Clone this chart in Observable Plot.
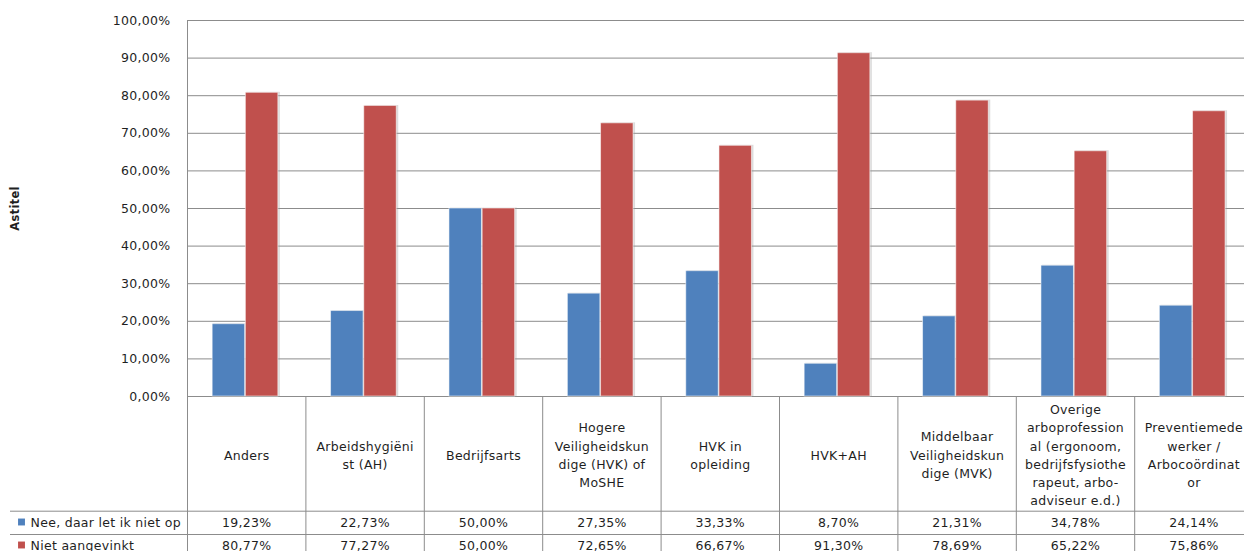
<!DOCTYPE html>
<html>
<head>
<meta charset="utf-8">
<script src="https://cdn.jsdelivr.net/npm/d3@7"></script>
<script src="https://cdn.jsdelivr.net/npm/@observablehq/plot@0.6"></script>
<style>
  html, body { margin: 0; padding: 0; background: #fff; overflow: hidden; }
  #chart svg { display: block; }
  #chart svg text { letter-spacing: 0.3px; }
</style>
</head>
<body>
<div id="chart"></div>
<script>
// Categories (one per column) and the wrapped header text shown in the data table
const categories = [
  "Anders",
  "Arbeidshygiënist (AH)",
  "Bedrijfsarts",
  "Hogere Veiligheidskundige (HVK) of MoSHE",
  "HVK in opleiding",
  "HVK+AH",
  "Middelbaar Veiligheidskundige (MVK)",
  "Overige arboprofessional (ergonoom, bedrijfsfysiotherapeut, arbo-adviseur e.d.)",
  "Preventiemedewerker / Arbocoördinator"
];
const headerLabels = [
  "Anders",
  "Arbeidshygiëni\nst (AH)",
  "Bedrijfsarts",
  "Hogere\nVeiligheidskun\ndige (HVK) of\nMoSHE",
  "HVK in\nopleiding",
  "HVK+AH",
  "Middelbaar\nVeiligheidskun\ndige (MVK)",
  "Overige\narboprofession\nal (ergonoom,\nbedrijfsfysiothe\nrapeut, arbo-\nadviseur e.d.)",
  "Preventiemede\nwerker /\nArbocoördinat\nor"
];

// Series
const seriesNames = ["Nee, daar let ik niet op", "Niet aangevinkt"];
const neeValues   = [0.1923, 0.2273, 0.5000, 0.2735, 0.3333, 0.0870, 0.2131, 0.3478, 0.2414];
const nietValues  = [0.8077, 0.7727, 0.5000, 0.7265, 0.6667, 0.9130, 0.7869, 0.6522, 0.7586];
const seriesColors = ["#4F81BD", "#C0504D"];

// Y axis
const yTicks = [0, 0.1, 0.2, 0.3, 0.4, 0.5, 0.6, 0.7, 0.8, 0.9, 1.0];
const yTitle = "Astitel";

// Dutch number formatting: 19,23%
const nl = d3.formatLocale({decimal: ",", thousands: ".", grouping: [3], currency: ["€ ", ""]});
const pct = nl.format(".2%");

const seriesValues = [neeValues, nietValues];
const rows = seriesNames.map((name, s) =>
  categories.map((cat, i) => ({cat, series: name, value: seriesValues[s][i]}))
);
const headers = categories.map((cat, i) => ({cat, header: headerLabels[i]}));

// Layout
const W = 1244, H = 551;
const plotLeft = 187, plotTop = 20, plotBottom = 396;
const step = 118.4;                 // width of one table column
const barW = 32.5;
const gridColor = "#8c8c8c";
const textColor = "#1f1f1f";
const font = "'DejaVu Sans', Verdana, sans-serif";
const fs = 12.5;

const headerMid = 57.4;   // header row centre, below the baseline
const rowLine1 = 114.7;   // line under the header row
const rowLine2 = 138;     // line between the two value rows
const row1Mid = 126.5;
const row2Mid = 149.5;

const barMarks = (s, dx) => [
  Plot.barY(rows[s], {x: "cat", y: "value", fill: "#9a9a9a", fillOpacity: 0.35, dx: dx + 1.5, inset: -0.5}),
  Plot.barY(rows[s], {x: "cat", y: "value", fill: seriesColors[s], stroke: "#ffffff", strokeOpacity: 0.55, strokeWidth: 1, dx})
];

const chart = Plot.plot({
  width: W,
  height: H,
  marginLeft: 10,
  marginRight: 0,
  marginTop: plotTop,
  marginBottom: H - plotBottom,
  style: {fontFamily: font, fontSize: fs + "px", color: textColor, background: "#fff"},
  x: {type: "band", domain: categories, range: [plotLeft, plotLeft + step * categories.length],
      paddingInner: 1 - barW / step, paddingOuter: (1 - barW / step) / 2, align: 0.5, round: false, axis: null},
  y: {domain: [0, 1], range: [plotBottom, plotTop], axis: null},
  marks: [
    // horizontal gridlines (including the baseline)
    Plot.ruleY(yTicks, {stroke: gridColor, strokeWidth: 1, insetLeft: plotLeft - 10}),
    // left axis line, running down through the data table
    Plot.ruleX([categories[0]], {dx: -step / 2, stroke: gridColor, insetBottom: -(H - plotBottom)}),
    // column separators of the data table
    Plot.ruleX(categories.slice(1), {dx: -step / 2, stroke: gridColor, insetTop: plotBottom - plotTop, insetBottom: -(H - plotBottom)}),
    // table row lines and the table's left edge
    Plot.ruleY([0], {dy: rowLine1, stroke: gridColor}),
    Plot.ruleY([0], {dy: rowLine2, stroke: gridColor}),
    Plot.ruleX([0], {frameAnchor: "left", stroke: gridColor}),

    // bars
    ...barMarks(0, -17.8),
    ...barMarks(1, 15.4),

    // y tick labels
    Plot.text(yTicks, {y: d => d, text: d => pct(d), frameAnchor: "left", dx: plotLeft - 10 - 17,
      textAnchor: "end", fill: textColor, fontSize: fs}),
    // y axis title
    Plot.text([yTitle], {y: 0.5, frameAnchor: "left", dx: 5, rotate: -90, text: d => d,
      textAnchor: "middle", fontWeight: "bold", fontSize: 11.5, fill: textColor}),

    // data table: header cells
    Plot.text(headers, {x: "cat", y: 0, dy: headerMid, text: "header", lineHeight: 1.46,
      textAnchor: "middle", lineAnchor: "middle", fontSize: fs, fill: textColor}),
    // data table: values
    Plot.text(rows[0], {x: "cat", y: 0, dy: row1Mid, text: d => pct(d.value), fontSize: fs, fill: textColor}),
    Plot.text(rows[1], {x: "cat", y: 0, dy: row2Mid, text: d => pct(d.value), fontSize: fs, fill: textColor}),
    // data table: legend keys
    Plot.dot([0], {y: 0, dy: row1Mid - 1, frameAnchor: "left", dx: 11, symbol: "square", r: 3.9, fill: seriesColors[0]}),
    Plot.dot([0], {y: 0, dy: row2Mid - 1, frameAnchor: "left", dx: 11, symbol: "square", r: 3.9, fill: seriesColors[1]}),
    Plot.text([seriesNames[0]], {y: 0, dy: row1Mid, frameAnchor: "left", dx: 20, text: d => d,
      textAnchor: "start", fontSize: fs, fill: textColor}),
    Plot.text([seriesNames[1]], {y: 0, dy: row2Mid, frameAnchor: "left", dx: 20, text: d => d,
      textAnchor: "start", fontSize: fs, fill: textColor})
  ]
});

document.getElementById("chart").append(chart);
</script>
</body>
</html>
